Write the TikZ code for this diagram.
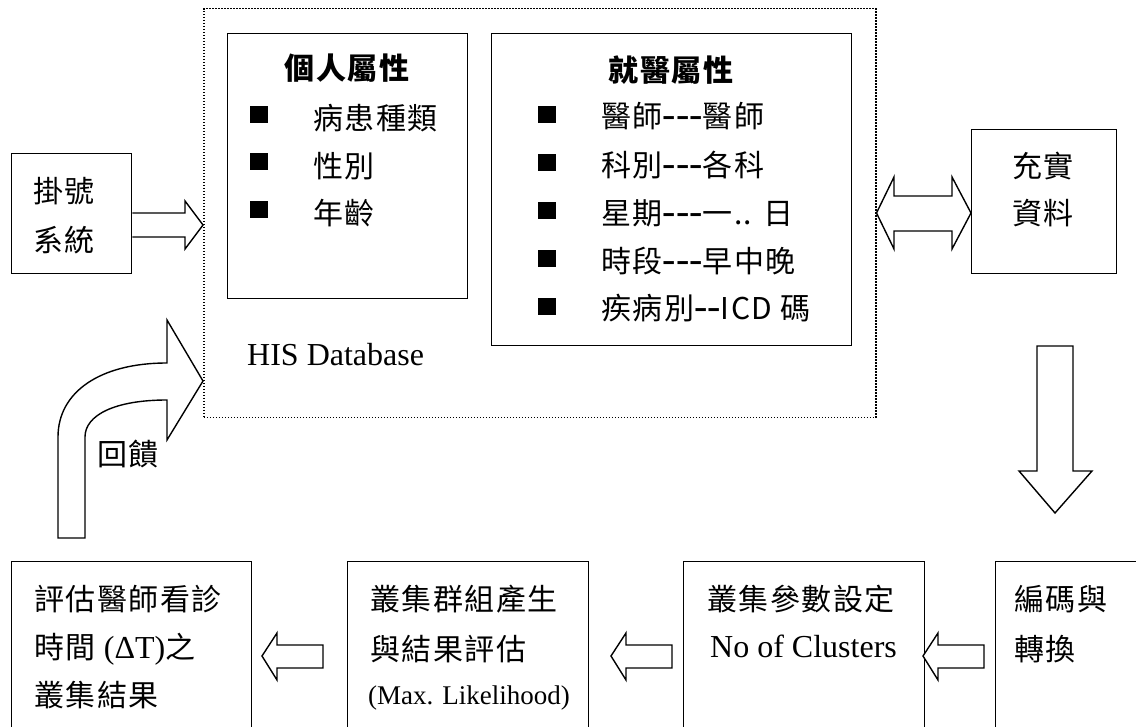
\documentclass[tikz,border=0pt]{standalone}
\usepackage{fontspec}
\setmainfont{Liberation Serif}
\newfontfamily\cjk[LetterSpace=5]{Noto Sans CJK TC}
% half-width dash as used in the attribute lists
\newcommand{\hy}{{\rmfamily\fontsize{40}{40}\selectfont -}}
\begin{document}
\begin{tikzpicture}[x=1pt,y=-1pt,
  box/.style={draw, line width=1.4pt, rectangle, inner sep=0pt, anchor=north west},
  dotbox/.style={draw, line width=1.5pt, dash pattern=on 1.5pt off 1.5pt, rectangle, inner sep=0pt, anchor=north west},
  zh/.style={font=\cjk\fontsize{30}{30}\selectfont, inner sep=0pt, anchor=west},
  zhb/.style={font=\cjk\bfseries\fontsize{30}{30}\selectfont, inner sep=0pt},
  en/.style={font=\rmfamily\fontsize{32}{32}\selectfont, inner sep=0pt, anchor=base west},
  ensmall/.style={font=\rmfamily\fontsize{27}{27}\selectfont, inner sep=0pt, anchor=base west},
  bullet/.style={fill=black, minimum width=18pt, minimum height=17pt, inner sep=0pt},
  blockarrow/.style={draw, line width=1.4pt, fill=white, line join=miter}]
\clip (0,0) rectangle (1136,727);
\fill[white] (0,0) rectangle (1136,727);

% boxes of the upper part
\node[box, minimum width=120pt, minimum height=120pt] (reg) at (11,153) {};
\node[dotbox, minimum width=672pt, minimum height=409pt] (db) at (203,8) {};
\node[box, minimum width=240pt, minimum height=265pt] (pers) at (227,33) {};
\node[box, minimum width=360pt, minimum height=312pt] (med) at (491,33) {};
\node[box, minimum width=145pt, minimum height=144pt] (enr) at (971,129) {};

% boxes of the lower row (running past the page edge)
\node[box, minimum width=240pt, minimum height=200pt] (b1) at (11,561) {};
\node[box, minimum width=241pt, minimum height=200pt] (b2) at (347,561) {};
\node[box, minimum width=241pt, minimum height=200pt] (b3) at (683,561) {};
\node[box, minimum width=200pt, minimum height=200pt] (b4) at (995,561) {};

% registration system
\node[zh] (regA) at (33,191) {掛號};
\node[zh] (regB) at (33,240) {系統};

% personal attributes
\node[zhb] (persT) at (347,68) {個人屬性};
\node[bullet] (pb1) at (259,114.5) {};
\node[bullet] (pb2) at (259,162) {};
\node[bullet] (pb3) at (259,210) {};
\node[zh] (pi1) at (313,118) {病患種類};
\node[zh] (pi2) at (313,166) {性別};
\node[zh] (pi3) at (313,213) {年齡};

% visit attributes
\node[zhb] (medT) at (671,70) {就醫屬性};
\node[bullet] (mb1) at (547,114.5) {};
\node[bullet] (mb2) at (547,163) {};
\node[bullet] (mb3) at (547,211) {};
\node[bullet] (mb4) at (547,259) {};
\node[bullet] (mb5) at (547,307) {};
\node[zh] (mi1) at (601,116) {醫師\hy\hy\hy 醫師};
\node[zh] (mi2) at (601,165) {科別\hy\hy\hy 各科};
\node[zh] (mi3) at (601,213) {星期\hy\hy\hy 一.. 日};
\node[zh] (mi4) at (601,261) {時段\hy\hy\hy 早中晚};
\node[zh] (mi5) at (601,308) {疾病別\hy\hy ICD 碼};

\node[en] (his) at (247,366) {HIS Database};

% data enrichment
\node[zh] (enA) at (1012,166) {充實};
\node[zh] (enB) at (1012,213) {資料};

% feedback label
\node[zh] (fb) at (97,454) {回饋};

% lower row texts
\node[zh] (b1a) at (34,599) {評估醫師看診};
\node[zh] (b1b) at (34,649) {時間 {\rmfamily\fontsize{32}{32}\selectfont (ΔT)}之};
\node[zh] (b1c) at (34,695) {叢集結果};
\node[zh] (b2a) at (370,599) {叢集群組產生};
\node[zh] (b2b) at (370,649) {與結果評估};
\node[ensmall] (b2c) at (368,704) {(Max. Likelihood)};
\node[zh] (b3a) at (707,599) {叢集參數設定};
\node[en] (b3b) at (710,657) {No of Clusters};
\node[zh] (b4a) at (1014,599) {編碼與};
\node[zh] (b4b) at (1014,649) {轉換};

% block arrows
\draw[blockarrow] (reg.east |- 0,213) -- (185,213) -- (185,201) -- (db.west |- 0,225)
  -- (185,249) -- (185,237) -- (reg.east |- 0,237);
\draw[blockarrow] (db.east |- 0,213) -- (894,177) -- (894,196) -- (952,196) -- (952,177)
  -- (enr.west |- 0,213) -- (952,249) -- (952,231) -- (894,231) -- (894,249) -- cycle;
\draw[blockarrow] (1037,346) -- (1073,346) -- (1073,471) -- (1092,471) -- (1055,513)
  -- (1019,471) -- (1037,471) -- cycle;
\draw[blockarrow] (262,656) -- (277,633) -- (277,645) -- (323,645) -- (323,668)
  -- (277,668) -- (277,680) -- cycle;
\draw[blockarrow] (611,656) -- (626,633) -- (626,645) -- (672,645) -- (672,668)
  -- (626,668) -- (626,680) -- cycle;
\draw[blockarrow] (923,656) -- (938,633) -- (938,645) -- (984,645) -- (984,668)
  -- (938,668) -- (938,680) -- cycle;

% curved feedback arrow
\draw[blockarrow] (58,538) -- (58,437) .. controls (58,392) and (100,363) .. (167,363)
  -- (167,320) -- (db.west |- 0,381) -- (167,440) -- (167,400)
  .. controls (115,400) and (85,415) .. (85,437) -- (85,538) -- cycle;
\end{tikzpicture}
\end{document}
